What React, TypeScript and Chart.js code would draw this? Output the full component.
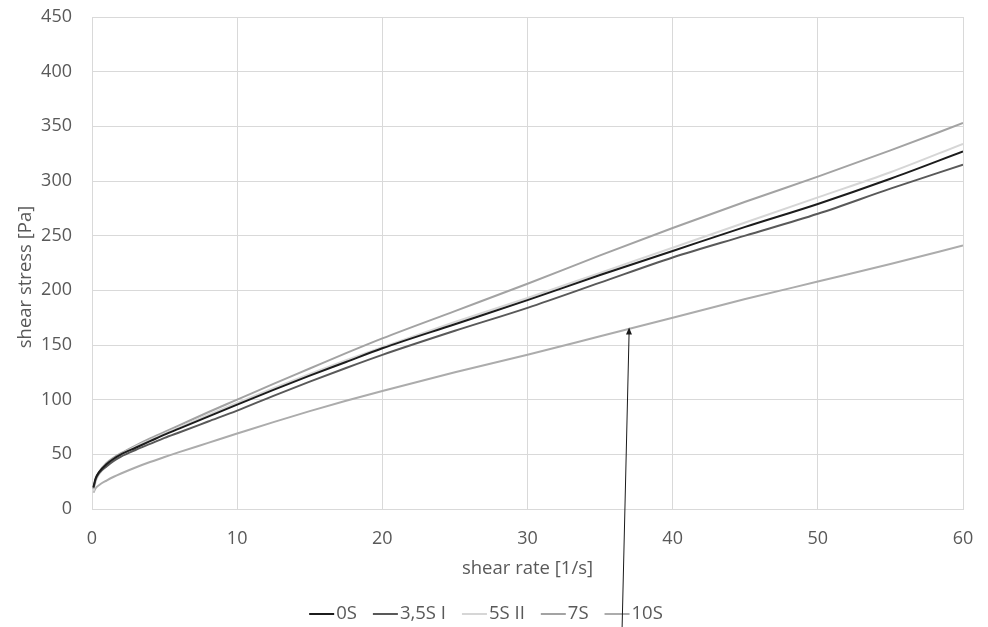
import React, { useEffect, useRef } from "react";
import { Chart, registerables } from "chart.js";

Chart.register(...registerables);

const shearRate = [0.1, 0.25, 0.5, 1, 1.5, 2, 3, 4, 5, 6, 8, 10, 12.5, 15, 17.5, 20, 25, 30, 35, 40, 45, 50, 55, 60];

const s0S = [20, 28, 34, 41, 46, 50, 56, 62, 68, 73.5, 84.5, 95.5, 109, 122, 134.5, 147, 169, 191, 214, 236, 258, 279, 302, 327];
const s35SI = [19, 27, 33, 39, 44, 48, 54, 59.5, 65, 70, 80, 90, 103.5, 116.5, 129, 141, 163, 184, 207, 230, 250, 270, 293, 315];
const s5SII = [16, 25, 32, 40, 45, 50, 57, 63, 69, 74.5, 86, 97, 110.5, 123.5, 136, 148, 171, 193, 216, 239, 262, 285, 308, 334];
const s7S = [18, 27, 34, 42, 47, 51, 58, 64.5, 70.5, 76.5, 88.5, 100, 114.5, 128.5, 142.5, 156, 181, 206, 232, 257, 281, 304, 328, 353];
const s10S = [15, 19, 22, 26, 29.5, 32.5, 38, 43, 47.5, 52, 60.5, 69, 79.5, 89.5, 99, 108, 125, 141, 158, 175, 192, 208, 224, 241];

const seriesLabels = ["0S", "3,5S I", "5S II", "7S", "10S"];
const seriesColors = ["#1c1c1c", "#595959", "#d6d6d6", "#a3a3a3", "#acacac"];
const seriesValues = [s0S, s35SI, s5SII, s7S, s10S];

const xTicks = [0, 10, 20, 30, 40, 50, 60];
const yTicks = [0, 50, 100, 150, 200, 250, 300, 350, 400, 450];

const arrowTarget = { x: 37, y: 166 };

const FONT = "'Open Sans', sans-serif";
const TEXT = "#595959";
const GRID = "#d9d9d9";

export default function App() {
  const ref = useRef<HTMLCanvasElement | null>(null);

  useEffect(() => {
    if (!ref.current) return;
    const extras = {
      id: "extras",
      afterDraw(chart: any) {
        const ctx = chart.ctx;
        const xs = chart.scales.x;
        const ys = chart.scales.y;
        ctx.save();
        // legend
        ctx.font = `18.5px ${FONT}`;
        ctx.textBaseline = "middle";
        ctx.textAlign = "left";
        const lineW = 25;
        const gapAfterLine = 2;
        const gapBetween = 16;
        let total = 0;
        const widths = seriesLabels.map((l) => ctx.measureText(l).width);
        widths.forEach((w, i) => {
          total += lineW + gapAfterLine + w + (i < widths.length - 1 ? gapBetween : 0);
        });
        let x = 486 - total / 2;
        const ly = 614;
        seriesLabels.forEach((l, i) => {
          ctx.strokeStyle = seriesColors[i];
          ctx.lineWidth = 2;
          ctx.beginPath();
          ctx.moveTo(x, ly);
          ctx.lineTo(x + lineW, ly);
          ctx.stroke();
          x += lineW + gapAfterLine;
          ctx.fillStyle = TEXT;
          ctx.fillText(l, x, ly);
          x += widths[i] + gapBetween;
        });
        // y title
        ctx.save();
        ctx.translate(26, 277);
        ctx.rotate(-Math.PI / 2);
        ctx.textAlign = "center";
        ctx.textBaseline = "middle";
        ctx.font = `18.5px ${FONT}`;
        ctx.fillStyle = TEXT;
        ctx.fillText("shear stress [Pa]", 0, 0);
        ctx.restore();
        // arrow
        const tx = xs.getPixelForValue(arrowTarget.x);
        const ty = ys.getPixelForValue(arrowTarget.y);
        const bx = tx - 7;
        const by = chart.height;
        ctx.strokeStyle = "#1a1a1a";
        ctx.fillStyle = "#1a1a1a";
        ctx.lineWidth = 1;
        ctx.beginPath();
        ctx.moveTo(bx, by);
        ctx.lineTo(tx, ty + 4);
        ctx.stroke();
        const ang = Math.atan2(ty - by, tx - bx);
        const hl = 7;
        const hw = 3;
        ctx.beginPath();
        ctx.moveTo(tx, ty);
        ctx.lineTo(tx - hl * Math.cos(ang) + hw * Math.sin(ang), ty - hl * Math.sin(ang) - hw * Math.cos(ang));
        ctx.lineTo(tx - hl * Math.cos(ang) - hw * Math.sin(ang), ty - hl * Math.sin(ang) + hw * Math.cos(ang));
        ctx.closePath();
        ctx.fill();
        ctx.restore();
      },
    };

    const chart = new Chart(ref.current, {
      type: "line",
      data: {
        datasets: seriesLabels.map((label, i) => ({
          label,
          data: shearRate.map((x, j) => ({ x, y: seriesValues[i][j] })),
          borderColor: seriesColors[i],
          backgroundColor: seriesColors[i],
          borderWidth: 2,
          pointRadius: 0,
          cubicInterpolationMode: "monotone" as const,
          fill: false,
        })),
      },
      options: {
        responsive: false,
        animation: false,
        layout: { padding: { top: 17, right: 25, bottom: 0, left: 0 } },
        plugins: { legend: { display: false }, tooltip: { enabled: false } },
        scales: {
          x: {
            type: "linear",
            min: 0,
            max: 60,
            afterBuildTicks: (s: any) => {
              s.ticks = xTicks.map((v) => ({ value: v }));
            },
            afterFit: (s: any) => {
              s.height = 118;
              s.paddingLeft = 0;
              s.paddingRight = 0;
            },
            grid: { color: GRID, lineWidth: 1, drawTicks: false },
            border: { color: GRID },
            ticks: { color: TEXT, font: { family: FONT, size: 18 }, padding: 19 },
            title: {
              display: true,
              text: "shear rate [1/s]",
              color: TEXT,
              font: { family: FONT, size: 18.5 },
              padding: { top: 0, bottom: 47 },
            },
          },
          y: {
            type: "linear",
            min: 0,
            max: 450,
            afterBuildTicks: (s: any) => {
              s.ticks = yTicks.map((v) => ({ value: v }));
            },
            afterFit: (s: any) => {
              s.width = 92;
              s.paddingTop = 0;
              s.paddingBottom = 0;
            },
            grid: { color: GRID, lineWidth: 1, drawTicks: false },
            border: { color: GRID },
            ticks: { color: TEXT, font: { family: FONT, size: 18 }, padding: 20 },
          },
        },
      },
      plugins: [extras],
    });
    return () => chart.destroy();
  }, []);

  return (
    <div style={{ position: "fixed", left: 0, top: 0, width: 988, height: 627, background: "#fff" }}>
      <canvas ref={ref} width={988} height={627} />
    </div>
  );
}
